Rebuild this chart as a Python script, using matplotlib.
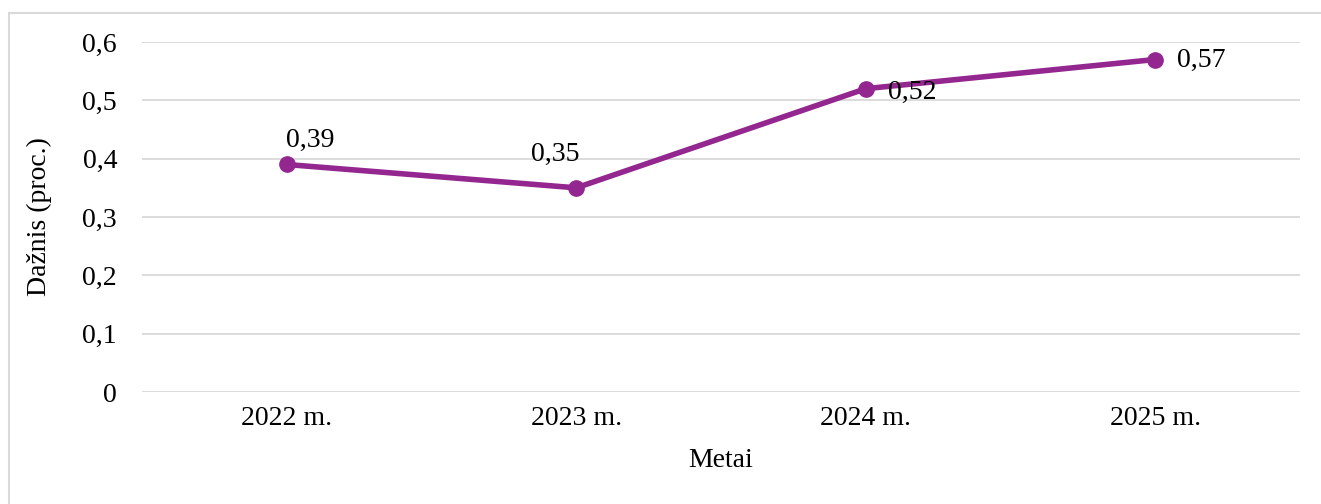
import matplotlib.pyplot as plt
from matplotlib.patches import Rectangle

years = ['2022 m.', '2023 m.', '2024 m.', '2025 m.']
values = [0.39, 0.35, 0.52, 0.57]
labels = ['0,39', '0,35', '0,52', '0,57']
yticks = [0, 0.1, 0.2, 0.3, 0.4, 0.5, 0.6]
ytick_labels = ['0', '0,1', '0,2', '0,3', '0,4', '0,5', '0,6']

plt.rcParams['font.family'] = ['Liberation Serif', 'DejaVu Serif']

fig = plt.figure(figsize=(13.21, 5.04), dpi=100)
ax = fig.add_axes([142/1321, 1-392/504, (1300-142)/1321, (392-42)/504])

color = '#93278F'
x = list(range(len(years)))
ax.plot(x, values, color=color, lw=4, marker='o', markersize=11, zorder=3)

# data label offsets (points), Excel style placement
offsets = [(17, 17), (-15, 24), (16, -3), (16, -1)]
has = ['center', 'center', 'left', 'left']
for xi, v, lab, off, ha in zip(x, values, labels, offsets, has):
    ax.annotate(lab, (xi, v), xytext=off, textcoords='offset points',
                ha=ha, va='center', fontsize=20, zorder=4)

ax.set_xlim(-0.5, 3.5)
ax.set_ylim(0, 0.6)
ax.set_xticks(x)
ax.set_xticklabels(years, fontsize=20)
ax.set_yticks(yticks)
ax.set_yticklabels(ytick_labels, fontsize=20)
ax.tick_params(length=0)
ax.tick_params(axis='y', pad=18)
ax.tick_params(axis='x', pad=10)
ax.grid(axis='y', color='#D9D9D9', lw=1.3)
ax.set_axisbelow(True)
for s in ax.spines.values():
    s.set_visible(False)

ax.set_xlabel('Metai', fontsize=20, labelpad=12)
ax.set_ylabel('Dažnis (proc.)', fontsize=20, labelpad=22)

# chart area border
fig.patches.append(Rectangle((9/1321, -0.5), 2, (504-13)/504 + 0.5,
                             transform=fig.transFigure, fill=False,
                             edgecolor='#D9D9D9', lw=1.5))

fig.savefig('out.png', dpi=100)
